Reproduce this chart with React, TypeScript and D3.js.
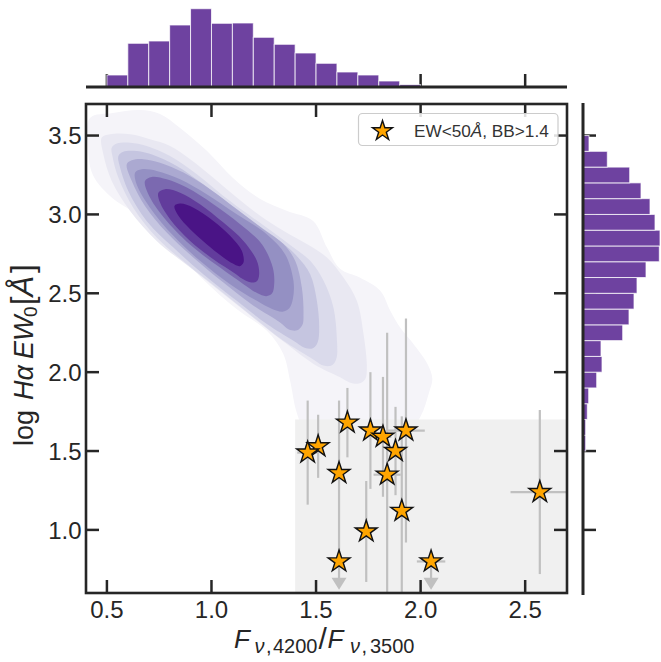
import React from "react";
import * as d3 from "d3";

// ---------- DATA ----------
// Top marginal histogram of F_{nu,4200}/F_{nu,3500}: bins of 0.1 starting at 0.5 (relative counts)
const xHistStart = 0.5;
const xHistWidth = 0.1;
const xHistCounts = [12, 43.7, 46, 62, 78.3, 63.7, 64, 49.7, 42.7, 34, 23.7, 15, 12, 6, 2.3];

// Right marginal histogram of log EW: bins of 0.1 starting at 1.5 (relative counts)
const yHistStart = 1.5;
const yHistWidth = 0.1;
const yHistCounts = [2.7, 2.7, 4.3, 5.7, 13.7, 19, 18, 39.7, 46, 51, 54, 63, 76.3, 77, 72, 67, 58, 46.7, 24.3, 6];

// Selected objects (EW<50 Å, BB>1.4)
const starX = [1.65, 1.76, 1.82, 1.93, 1.51, 1.46, 1.88, 1.61, 1.84, 1.91, 1.74, 1.61, 2.05, 2.57];
const starY = [1.68, 1.63, 1.59, 1.63, 1.53, 1.49, 1.5, 1.36, 1.35, 1.12, 0.99, 0.8, 0.8, 1.24];
const yErrLo = [0.22, 0.37, 0.38, 0.71, 0.2, 0.33, 0.28, 0.55, 0.9, 0.6, 0.32, 0, 0, 0.52];
const yErrHi = [0.22, 0.37, 0.38, 0.71, 0.2, 0.33, 0.28, 0.46, 0.9, 0.6, 0.32, 0, 0, 0.52];
const xErr = [0, 0.03, 0.04, 0.09, 0, 0.05, 0, 0, 0.065, 0, 0, 0, 0.068, 0.14];
const upperLimit = [false, false, false, false, false, false, false, false, false, false, false, true, true, false];
const limitLength = 0.18;

// Selection region
const boxX = [1.4, 2.7];
const boxY = [0.6, 1.7];

// KDE contour levels (outer -> inner), traced in data units
const kdeLevel1: [number, number][] = [
  [0.419, 3.611], [0.529, 3.643], [0.658, 3.662], [0.754, 3.637], [0.85, 3.548], [0.979, 3.402],
  [1.103, 3.231], [1.233, 3.098], [1.362, 3.022], [1.486, 2.959], [1.553, 2.788], [1.615, 2.655],
  [1.711, 2.598], [1.807, 2.516], [1.855, 2.389], [1.903, 2.281], [1.965, 2.18], [2.032, 2.053],
  [2.056, 1.959], [2.04, 1.87], [2.0, 1.72], [1.93, 1.6], [1.7, 1.55], [1.5, 1.58],
  [1.434, 1.661], [1.405, 1.756], [1.376, 1.946], [1.343, 2.117], [1.265, 2.262], [1.12, 2.4],
  [0.95, 2.6], [0.706, 2.95], [0.53, 3.1], [0.433, 3.25], [0.41, 3.43],
];
const kdeLevel2: [number, number][] = [
  [0.475, 3.487], [0.515, 3.508], [0.611, 3.508], [0.706, 3.476], [0.802, 3.434], [0.898, 3.35],
  [1.009, 3.233], [1.121, 3.107], [1.233, 2.991], [1.344, 2.896], [1.456, 2.812], [1.552, 2.727],
  [1.631, 2.6], [1.695, 2.452], [1.727, 2.242], [1.743, 2.03], [1.735, 1.955], [1.705, 1.928],
  [1.66, 1.935], [1.615, 1.967], [1.488, 2.052], [1.36, 2.178], [1.217, 2.326], [1.057, 2.495],
  [0.898, 2.663], [0.738, 2.832], [0.611, 3.022], [0.523, 3.212], [0.483, 3.381],
];
const kdeLevel3: [number, number][] = [
  [0.523, 3.423], [0.547, 3.449], [0.611, 3.455], [0.69, 3.434], [0.802, 3.371], [0.93, 3.255],
  [1.057, 3.117], [1.185, 2.991], [1.296, 2.885], [1.392, 2.79], [1.472, 2.706], [1.536, 2.579],
  [1.583, 2.41], [1.6, 2.199], [1.598, 2.09], [1.578, 2.045], [1.54, 2.04], [1.472, 2.093],
  [1.344, 2.199], [1.201, 2.347], [1.041, 2.518], [0.882, 2.685], [0.738, 2.853], [0.626, 3.043],
  [0.555, 3.233], [0.528, 3.36],
];
const kdeLevel4: [number, number][] = [
  [0.555, 3.371], [0.578, 3.398], [0.643, 3.402], [0.722, 3.377], [0.834, 3.307], [0.961, 3.191],
  [1.089, 3.064], [1.217, 2.938], [1.328, 2.832], [1.408, 2.737], [1.472, 2.621], [1.504, 2.452],
  [1.515, 2.283], [1.508, 2.19], [1.485, 2.152], [1.445, 2.155], [1.392, 2.199], [1.265, 2.305],
  [1.121, 2.452], [0.961, 2.621], [0.818, 2.79], [0.69, 2.959], [0.602, 3.149], [0.563, 3.297],
];
const kdeLevel5: [number, number][] = [
  [0.595, 3.318], [0.619, 3.343], [0.674, 3.35], [0.754, 3.328], [0.866, 3.265], [0.993, 3.16],
  [1.121, 3.033], [1.248, 2.906], [1.344, 2.812], [1.4, 2.706], [1.432, 2.537], [1.44, 2.368],
  [1.435, 2.3], [1.41, 2.265], [1.37, 2.27], [1.328, 2.315], [1.201, 2.421], [1.057, 2.568],
  [0.913, 2.727], [0.786, 2.885], [0.682, 3.054], [0.619, 3.212],
];
const kdeLevel6: [number, number][] = [
  [0.635, 3.265], [0.666, 3.286], [0.738, 3.276], [0.85, 3.223], [0.977, 3.128], [1.121, 3.001],
  [1.264, 2.875], [1.352, 2.748], [1.392, 2.579], [1.39, 2.47], [1.372, 2.405], [1.34, 2.383],
  [1.29, 2.4], [1.217, 2.452], [1.089, 2.558], [0.945, 2.706], [0.818, 2.864], [0.706, 3.043],
  [0.642, 3.191],
];
const kdeLevel7: [number, number][] = [
  [0.682, 3.212], [0.714, 3.238], [0.786, 3.223], [0.882, 3.17], [1.009, 3.065], [1.137, 2.938],
  [1.241, 2.811], [1.293, 2.663], [1.3, 2.56], [1.29, 2.5], [1.262, 2.482], [1.22, 2.5],
  [1.153, 2.558], [1.041, 2.663], [0.914, 2.79], [0.786, 2.959], [0.706, 3.107],
];
const kdeLevel8: [number, number][] = [
  [0.746, 3.138], [0.778, 3.16], [0.85, 3.138], [0.945, 3.065], [1.057, 2.948], [1.153, 2.832],
  [1.217, 2.706], [1.228, 2.62], [1.218, 2.578], [1.19, 2.568], [1.15, 2.59], [1.105, 2.632],
  [1.009, 2.716], [0.898, 2.832], [0.802, 2.97], [0.754, 3.075],
];
const kdeLevel9: [number, number][] = [
  [0.823, 3.054], [0.85, 3.069], [0.914, 3.043], [1.009, 2.959], [1.089, 2.864], [1.145, 2.769],
  [1.153, 2.695], [1.135, 2.672], [1.1, 2.69], [1.057, 2.727], [0.977, 2.811], [0.898, 2.906],
  [0.842, 2.991],
];
const kdeLevels = [kdeLevel1, kdeLevel2, kdeLevel3, kdeLevel4, kdeLevel5, kdeLevel6, kdeLevel7, kdeLevel8, kdeLevel9];

const xTicks = [0.5, 1.0, 1.5, 2.0, 2.5];
const yTicks = [1.0, 1.5, 2.0, 2.5, 3.0, 3.5];

// ---------- STYLE ----------
const kdeColors = ["#f5f4f9", "#e9e8f2", "#dadaeb", "#c5c5e0", "#aba9d1", "#9490c3", "#7b69b0", "#623c9c", "#4a1486"];
const barColor = "#6e42a0";
const ink = "#262626";
const errColor = "#c0c0c0";
const font = "'Liberation Sans', Arial, Helvetica, sans-serif";

function starPath(R: number) {
  const r = R * 0.381966;
  const pts: string[] = [];
  for (let i = 0; i < 10; i++) {
    const a = -Math.PI / 2 + (i * Math.PI) / 5;
    const rad = i % 2 === 0 ? R : r;
    pts.push(`${(rad * Math.cos(a)).toFixed(2)},${(rad * Math.sin(a)).toFixed(2)}`);
  }
  return "M" + pts.join("L") + "Z";
}

export default function App() {
  const x = d3.scaleLinear().domain([0.4, 2.7]).range([86, 567]);
  const y = d3.scaleLinear().domain([0.6, 3.7]).range([593, 104]);
  const topY = d3.scaleLinear().domain([0, 80]).range([87, 7]);
  const rightX = d3.scaleLinear().domain([0, 80]).range([583, 663]);
  const fmt = d3.format(".1f");
  const line = d3
    .line<[number, number]>()
    .x((d) => x(d[0]))
    .y((d) => y(d[1]))
    .curve(d3.curveCatmullRomClosed.alpha(0.5));

  const star = starPath(11.5);
  const legendStar = starPath(10.5);
  const tickLen = 13;
  const tickW = 2.5;

  return (
    <svg width={661} height={662} style={{ display: "block", position: "absolute", left: 0, top: 0 }} fontFamily={font}>
      <defs>
        <clipPath id="main">
          <rect x={86} y={104} width={481} height={489} />
        </clipPath>
      </defs>
      <rect x={0} y={0} width={661} height={662} fill="white" />

      {/* Top marginal */}
      {xTicks.map((t) => (
        <line key={"tt" + t} x1={x(t)} x2={x(t)} y1={87} y2={87 - tickLen} stroke={ink} strokeWidth={tickW} />
      ))}
      {xHistCounts.map((c, i) => {
        const x0 = x(xHistStart + i * xHistWidth);
        const x1 = x(xHistStart + (i + 1) * xHistWidth);
        return (
          <rect key={"xh" + i} x={x0} y={topY(c)} width={x1 - x0} height={topY(0) - topY(c)} fill={barColor}
            stroke="white" strokeOpacity={0.75} strokeWidth={1} />
        );
      })}
      <line x1={86} x2={567} y1={87} y2={87} stroke={ink} strokeWidth={3} />

      {/* Right marginal */}
      {yTicks.map((t) => (
        <line key={"rt" + t} x1={583} x2={583 + tickLen} y1={y(t)} y2={y(t)} stroke={ink} strokeWidth={tickW} />
      ))}
      {yHistCounts.map((c, i) => {
        const y0 = y(yHistStart + (i + 1) * yHistWidth);
        const y1 = y(yHistStart + i * yHistWidth);
        return (
          <rect key={"yh" + i} x={rightX(0)} y={y0} width={rightX(c) - rightX(0)} height={y1 - y0} fill={barColor}
            stroke="white" strokeOpacity={0.75} strokeWidth={1} />
        );
      })}
      <line x1={583} x2={583} y1={103} y2={595} stroke={ink} strokeWidth={3} />

      {/* Main panel */}
      <g clipPath="url(#main)">
        {kdeLevels.map((lv, i) => (
          <path key={"kde" + i} d={line(lv) || ""} fill={kdeColors[i]} stroke="none" />
        ))}
        <rect x={x(boxX[0])} y={y(boxY[1])} width={x(boxX[1]) - x(boxX[0])} height={y(boxY[0]) - y(boxY[1])} fill="#f0f0f0" />
        {starX.map((sx, i) => (
          <g key={"eb" + i} stroke={errColor} strokeWidth={2.2}>
            {!upperLimit[i] && (
              <line x1={x(sx)} x2={x(sx)} y1={y(starY[i] - yErrLo[i])} y2={y(starY[i] + yErrHi[i])} />
            )}
            {xErr[i] > 0 && <line x1={x(sx - xErr[i])} x2={x(sx + xErr[i])} y1={y(starY[i])} y2={y(starY[i])} />}
            {upperLimit[i] && (
              <>
                <line x1={x(sx)} x2={x(sx)} y1={y(starY[i])} y2={y(starY[i] - limitLength) - 8} />
                <path
                  d={`M${x(sx) - 7.5},${y(starY[i] - limitLength) - 12} L${x(sx) + 7.5},${y(starY[i] - limitLength) - 12} L${x(sx)},${y(starY[i] - limitLength)} Z`}
                  fill={errColor}
                  stroke="none"
                />
              </>
            )}
          </g>
        ))}
        {starX.map((sx, i) => (
          <path key={"st" + i} d={star} transform={`translate(${x(sx)},${y(starY[i])})`} fill="#ffa500" stroke="#111" strokeWidth={1.4} />
        ))}
      </g>

      {/* Main ticks (inward, all sides) */}
      {xTicks.map((t) => (
        <g key={"xt" + t} stroke={ink} strokeWidth={tickW}>
          <line x1={x(t)} x2={x(t)} y1={593} y2={593 - tickLen} />
          <line x1={x(t)} x2={x(t)} y1={104} y2={104 + tickLen} />
        </g>
      ))}
      {yTicks.map((t) => (
        <g key={"yt" + t} stroke={ink} strokeWidth={tickW}>
          <line x1={86} x2={86 + tickLen} y1={y(t)} y2={y(t)} />
          <line x1={567} x2={567 - tickLen} y1={y(t)} y2={y(t)} />
        </g>
      ))}

      {/* Legend */}
      <rect x={358.5} y={113.5} width={199.5} height={32} rx={4} fill="white" fillOpacity={0.85} stroke="#cccccc" strokeWidth={1.2} />
      <path d={legendStar} transform="translate(382.5,131)" fill="#ffa500" stroke="#111" strokeWidth={1.4} />
      <text x={414} y={137} fontSize={17.2} fill="#333">
        EW&lt;50<tspan fontStyle="italic">Å</tspan>, BB&gt;1.4
      </text>

      {/* Spines */}
      <rect x={86} y={104} width={481} height={489} fill="none" stroke={ink} strokeWidth={2.6} />

      {/* Tick labels */}
      {xTicks.map((t) => (
        <text key={"xl" + t} x={x(t)} y={618} fontSize={24} textAnchor="middle" fill={ink}>
          {fmt(t)}
        </text>
      ))}
      {yTicks.map((t) => (
        <text key={"yl" + t} x={81.5} y={y(t)} dy="0.36em" fontSize={24} textAnchor="end" fill={ink}>
          {fmt(t)}
        </text>
      ))}

      {/* X axis label */}
      <text y={648} fontSize={26} fill={ink}>
        <tspan x={234} fontStyle="italic">F</tspan>
        <tspan x={254.5} y={653} fontSize={20} fontStyle="italic">ν</tspan>
        <tspan x={266} y={653} fontSize={20}>,</tspan>
        <tspan x={273} y={653} fontSize={20}>4200</tspan>
        <tspan x={318.5} y={649} fontSize={30}>/</tspan>
        <tspan x={327.5} y={648} fontStyle="italic">F</tspan>
        <tspan x={350} y={653} fontSize={20} fontStyle="italic">ν</tspan>
        <tspan x={361.5} y={653} fontSize={20}>,</tspan>
        <tspan x={370} y={653} fontSize={20}>3500</tspan>
      </text>

      {/* Y axis label */}
      <text transform="translate(32.5,0) rotate(-90)" y={0} fontSize={27} fill={ink}>
        <tspan x={-446}>log</tspan>
        <tspan x={-400} fontStyle="italic">Hα</tspan>
        <tspan x={-359} fontStyle="italic">EW</tspan>
        <tspan x={-317} y={4.5} fontSize={19}>0</tspan>
        <tspan x={-305} y={0} fontSize={31}>[</tspan>
        <tspan x={-296.5} fontSize={31} fontStyle="italic">Å</tspan>
        <tspan x={-273} fontSize={31}>]</tspan>
      </text>
    </svg>
  );
}
